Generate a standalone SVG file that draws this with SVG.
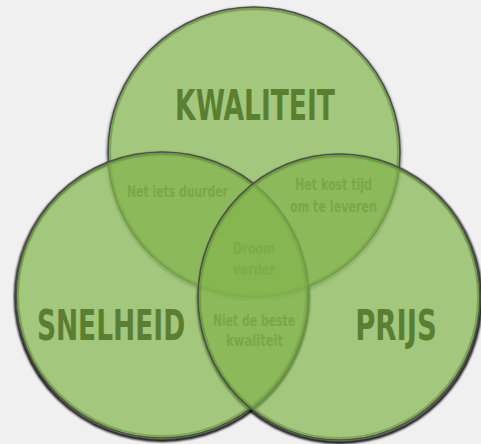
<svg xmlns="http://www.w3.org/2000/svg" width="481" height="444" viewBox="0 0 481 444">
  <style>
    .fill { fill: rgb(130,181,76); fill-opacity: 0.7; stroke: #4e4e4e; stroke-width: 1.6; }
    .rim { fill: none; stroke: #5f8f32; stroke-width: 2; stroke-opacity: 0.55; }
    .shadow { fill: none; stroke: #000; stroke-width: 3; filter: url(#blur); }
    .big { font-family: "DejaVu Sans Condensed", "Liberation Sans Narrow", "Liberation Sans", sans-serif; font-weight: bold; font-size: 43px; fill: #5b7f31; text-anchor: middle; }
    .small { font-family: "DejaVu Sans Condensed", "Liberation Sans Narrow", "Liberation Sans", sans-serif; font-weight: bold; font-size: 15px; fill: #79a845; text-anchor: middle; }
    .faint { fill: #7cad48; }
  </style>
  <defs>
    <filter id="blur" x="-10%" y="-10%" width="120%" height="120%">
      <feGaussianBlur stdDeviation="1"/>
    </filter>
  </defs>
  <rect width="481" height="444" fill="#f0f0f0"/>

  <g id="shadows">
    <ellipse class="shadow" cx="254" cy="153.5" rx="146.5" ry="145.5" stroke-opacity="0.35"/>
    <ellipse class="shadow" cx="162" cy="297" rx="146.5" ry="143.5"/>
    <ellipse class="shadow" cx="339.5" cy="299" rx="141.5" ry="143.5"/>
  </g>

  <g id="kwaliteit">
    <ellipse class="fill" cx="254" cy="152" rx="146" ry="145"/>
    <ellipse class="rim" cx="254" cy="152" rx="144" ry="143"/>
    <text class="big" transform="translate(255 120) scale(0.68 1)" x="0" y="0" textLength="235" lengthAdjust="spacingAndGlyphs">KWALITEIT</text>
  </g>

  <g id="snelheid">
    <ellipse class="fill" cx="162" cy="295" rx="146" ry="143"/>
    <ellipse class="rim" cx="162" cy="295" rx="144" ry="141"/>
    <text class="big" transform="translate(111 340) scale(0.68 1)" x="0" y="0" textLength="218" lengthAdjust="spacingAndGlyphs">SNELHEID</text>
  </g>

  <g id="prijs">
    <ellipse class="fill" cx="339" cy="297" rx="141" ry="143"/>
    <ellipse class="rim" cx="339" cy="297" rx="139" ry="141"/>
    <text class="big" transform="translate(396 340) scale(0.71 1)" x="0" y="0" textLength="115" lengthAdjust="spacingAndGlyphs">PRIJS</text>
  </g>

  <g id="kwaliteit-snelheid">
    <text class="small" transform="translate(177.5 197) scale(0.8 1)" x="0" y="0" textLength="126" lengthAdjust="spacingAndGlyphs">Net iets duurder</text>
  </g>

  <g id="kwaliteit-prijs">
    <text class="small" transform="translate(333.5 190) scale(0.82 1)" x="0" y="0" textLength="94" lengthAdjust="spacingAndGlyphs">Het kost tijd</text>
    <text class="small" transform="translate(333.5 212) scale(0.83 1)" x="0" y="0" textLength="105" lengthAdjust="spacingAndGlyphs">om te leveren</text>
  </g>

  <g id="alle-drie">
    <text class="small faint" transform="translate(254 254) scale(0.83 1)" x="0" y="0" textLength="50.6" lengthAdjust="spacingAndGlyphs">Droom</text>
    <text class="small faint" transform="translate(254 275) scale(0.84 1)" x="0" y="0" textLength="50" lengthAdjust="spacingAndGlyphs">verder</text>
  </g>

  <g id="snelheid-prijs">
    <text class="small" transform="translate(254 325.5) scale(0.71 1)" x="0" y="0" textLength="115.5" lengthAdjust="spacingAndGlyphs">Niet de beste</text>
    <text class="small" transform="translate(254.5 345.5) scale(0.86 1)" x="0" y="0" textLength="66.3" lengthAdjust="spacingAndGlyphs">kwaliteit</text>
  </g>

  <g id="connectors"/>
</svg>
